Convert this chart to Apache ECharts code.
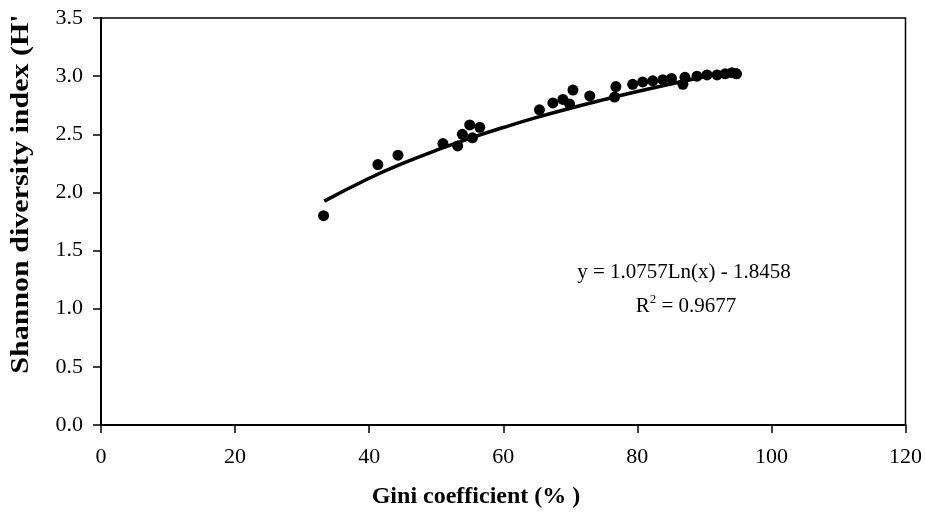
<!DOCTYPE html>
<html>
<head>
<meta charset="utf-8">
<script src="https://cdn.jsdelivr.net/npm/echarts@6/dist/echarts.min.js"></script>
<style>
html,body{margin:0;padding:0;background:#fff;}
#chart{width:925px;height:521px;}
</style>
</head>
<body>
<div id="chart"></div>
<script>
// Observed points
const giniX = [33.2, 41.3, 44.3, 51.0, 53.2, 53.9, 55.0, 55.4, 56.5, 65.4, 67.4, 68.9, 69.9, 70.4, 72.9, 76.6, 76.8, 79.3, 80.8, 82.3, 83.8, 85.1, 86.8, 87.1, 88.9, 90.4, 91.9, 93.1, 94.1, 94.8];
const shannonY = [1.80, 2.24, 2.32, 2.42, 2.40, 2.50, 2.58, 2.47, 2.56, 2.71, 2.77, 2.80, 2.76, 2.88, 2.83, 2.82, 2.91, 2.93, 2.95, 2.96, 2.97, 2.98, 2.93, 2.99, 3.00, 3.01, 3.01, 3.02, 3.03, 3.02];
// Trend line as drawn
const trendX = [33.3, 40, 45, 50, 55, 60, 65, 70, 75, 80, 85, 90, 95];
const trendY = [1.925, 2.122, 2.249, 2.362, 2.465, 2.558, 2.645, 2.724, 2.798, 2.868, 2.933, 2.995, 3.053];
const xTicks = [0, 20, 40, 60, 80, 100, 120];
const yTicks = ['0.0','0.5','1.0','1.5','2.0','2.5','3.0','3.5'];
const xTitle = 'Gini coefficient (% )';
const yTitle = "Shannon diversity index (H'";
const eqLine1 = 'y = 1.0757Ln(x) - 1.8458';
const eqLine2 = 'R{sup|2} = 0.9677';

const FONT = '"Liberation Serif", "Times New Roman", serif';
const chart = echarts.init(document.getElementById('chart'));
chart.setOption({
  animation: false,
  backgroundColor: '#fff',
  grid: {left: 101, right: 19, top: 18, bottom: 96, show: true, borderColor: '#000', borderWidth: 1.5, backgroundColor: 'transparent'},
  xAxis: {
    type: 'value', min: xTicks[0], max: xTicks[xTicks.length - 1], interval: 20,
    axisLine: {lineStyle: {color: '#000', width: 2}},
    axisTick: {show: true, inside: false, length: 8, lineStyle: {color: '#000', width: 1.5}},
    axisLabel: {color: '#000', fontFamily: FONT, fontSize: 22, margin: 21},
    splitLine: {show: false}
  },
  yAxis: {
    type: 'value', min: 0, max: 3.5, interval: 0.5,
    axisLine: {show: true, lineStyle: {color: '#000', width: 2}},
    axisTick: {show: true, inside: false, length: 8, lineStyle: {color: '#000', width: 1.5}},
    axisLabel: {color: '#000', fontFamily: FONT, fontSize: 22, margin: 18,
      formatter: v => yTicks[Math.round(v / 0.5)]},
    splitLine: {show: false}
  },
  graphic: [
    {type: 'text', x: 21, y: 194, rotation: Math.PI / 2, scaleY: 0.85, silent: true,
      style: {text: yTitle, x: 0, y: 0, align: 'center', verticalAlign: 'middle',
        fontFamily: FONT, fontSize: 30, fontWeight: 'bold', fill: '#000'}},
    {type: 'text', x: 476, y: 497, silent: true,
      style: {text: xTitle, x: 0, y: 0, align: 'center', verticalAlign: 'middle',
        fontFamily: FONT, fontSize: 24, fontWeight: 'bold', fill: '#000'}},
    {type: 'text', x: 684, y: 272, silent: true,
      style: {text: eqLine1, x: 0, y: 0, align: 'center', verticalAlign: 'middle',
        fontFamily: FONT, fontSize: 21, fill: '#000'}},
    {type: 'text', x: 686, y: 306, silent: true,
      style: {text: eqLine2, x: 0, y: 0, align: 'center', verticalAlign: 'middle',
        fontFamily: FONT, fontSize: 21, fill: '#000',
        rich: {sup: {fontFamily: FONT, fontSize: 13, verticalAlign: 'top', padding: [0, 0, 12, 0]}}}}
  ],
  series: [
    {type: 'line', data: trendX.map((x, i) => [x, trendY[i]]), smooth: true, showSymbol: false,
      lineStyle: {color: '#000', width: 3.5}, z: 2},
    {type: 'scatter', data: giniX.map((x, i) => [x, shannonY[i]]), symbol: 'circle', symbolSize: 11,
      itemStyle: {color: '#000', opacity: 1}, z: 3}
  ]
});
</script>
</body>
</html>
